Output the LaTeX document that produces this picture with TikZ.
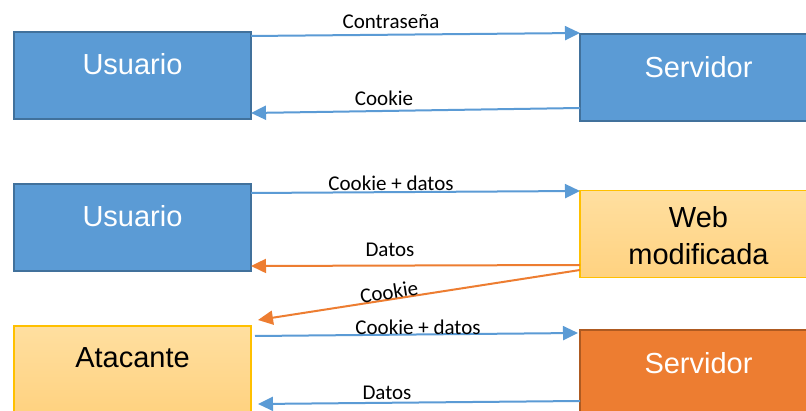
\documentclass[tikz,border=0pt]{standalone}
\usepackage{fontspec}
\newfontfamily\boxfont{Liberation Sans}
\newfontfamily\lblfont{Carlito}
\usetikzlibrary{arrows.meta,calc}
\definecolor{blueFill}{HTML}{5B9BD5}
\definecolor{blueEdge}{HTML}{41719C}
\definecolor{orangeFill}{HTML}{ED7D31}
\definecolor{orangeEdge}{HTML}{AE5A21}
\definecolor{goldEdge}{HTML}{FFC000}
\definecolor{goldTop}{HTML}{FFDFA0}
\definecolor{goldBottom}{HTML}{FFD280}
\tikzset{
  box/.style={rectangle, minimum width=237pt, minimum height=87pt, inner sep=0pt, outer sep=0pt},
  bluebox/.style={box, fill=blueFill, draw=blueEdge, line width=2pt},
  goldbox/.style={box, top color=goldTop, bottom color=goldBottom, draw=goldEdge, line width=1.5pt},
  orangebox/.style={box, fill=orangeFill, draw=orangeEdge, line width=2pt},
  boxtext/.style={font=\boxfont\fontsize{29}{37}\selectfont, inner sep=0pt, align=center},
  msg/.style={font=\lblfont\fontsize{21}{25}\selectfont, inner sep=0pt, anchor=base},
  flow/.style={line width=2pt, -{Triangle[length=15pt,width=14pt]}},
}
\begin{document}
\begin{tikzpicture}[x=1pt, y=-1pt]
  \clip (0,0) rectangle (806,411);
  \fill[white] (0,0) rectangle (806,411);

  % boxes
  \node[bluebox]   (u1) at (132.5,75.5)  {};
  \node[bluebox]   (s1) at (698.5,77.5)  {};
  \node[bluebox]   (u2) at (132.5,227.5) {};
  \node[goldbox]   (w)  at (698.5,234)   {};
  \node[goldbox]   (a)  at (132.5,369.5) {};
  \node[orangebox] (s2) at (698.5,373.5) {};

  % box captions
  \node[boxtext, white] (u1t) at ($(u1.center)+(0,-11)$) {Usuario};
  \node[boxtext, white] (s1t) at ($(s1.center)+(0,-10)$) {Servidor};
  \node[boxtext, white] (u2t) at ($(u2.center)+(0,-11)$) {Usuario};
  \node[boxtext, black] (wt)  at ($(w.center)+(0,2)$)    {Web\\modificada};
  \node[boxtext, black] (at)  at ($(a.center)+(0,-11.5)$) {Atacante};
  \node[boxtext, white] (s2t) at ($(s2.center)+(0,-10.5)$) {Servidor};

  % normal login
  \draw[flow, blueFill] ($(u1.north east)+(0,4)$) -- ($(s1.north west)+(0,-1)$);
  \draw[flow, blueFill] ($(s1.south west)+(0,-13)$) -- ($(u1.south east)+(0,-6)$);
  \node[msg] (m1) at (391,29)  {Contraseña};
  \node[msg] (m2) at (384,106) {Cookie};

  % user talks to the modified site
  \draw[flow, blueFill] ($(u2.north east)+(0,9)$) -- ($(w.north west)+(0,0.5)$);
  \draw[flow, orangeFill] ($(w.south west)+(0,-12.5)$) -- ($(u2.south east)+(0,-5)$);
  \draw[flow, orangeFill] ($(w.south west)+(0,-7.5)$) -- ($(a.north east)+(7,-6)$);
  \node[msg] (m3) at (391,191) {Cookie + datos};
  \node[msg] (m4) at (390,257) {Datos};
  \node[msg, anchor=center, rotate=8.9] (m5) at (389,292) {Cookie};

  % attacker replays the cookie
  \draw[flow, blueFill] ($(a.north east)+(4,10)$) -- ($(s2.north west)+(-2,3)$);
  \draw[flow, blueFill] ($(s2.north west)+(0,71)$) -- ($(a.north east)+(7,78)$);
  \node[msg] (m6) at (418,335) {Cookie + datos};
  \node[msg] (m7) at (387,400) {Datos};
\end{tikzpicture}
\end{document}
